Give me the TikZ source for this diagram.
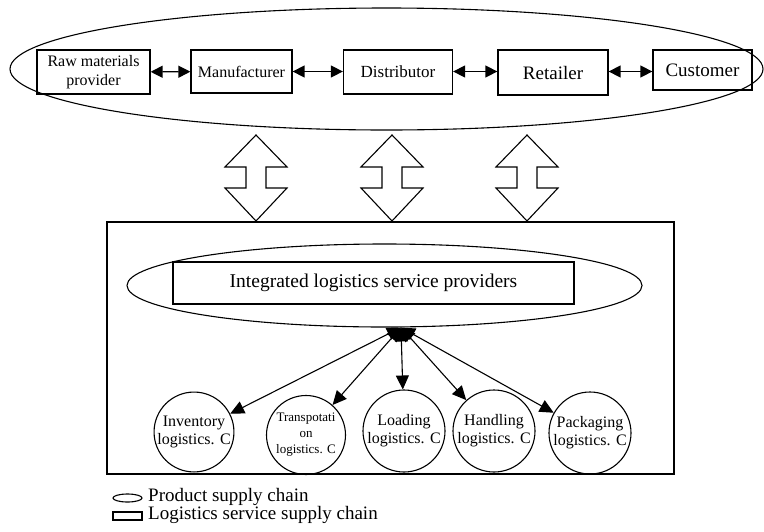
\documentclass[tikz,border=0pt]{standalone}
\usepackage{fontspec}
\setmainfont{Liberation Serif}
\usetikzlibrary{arrows.meta}

\newcommand{\fsz}[2]{\fontsize{#1}{#2}\selectfont}

\begin{document}
\begin{tikzpicture}[x=1pt,y=-1pt,
  box/.style={draw,line width=1.3pt,inner sep=0pt,align=center},
  circ/.style={draw,circle,line width=1.1pt,inner sep=0pt,align=center,font=\fsz{16}{18}},
  link/.style={{Triangle[length=12pt,width=12pt]}-{Triangle[length=12pt,width=12pt]},line width=1.4pt},
  spoke/.style={{Triangle[length=14pt,width=13pt]}-{Triangle[length=14pt,width=13pt]},line width=1.1pt}]
\useasboundingbox (0,0) rectangle (764,531);
\draw [line width=1.1pt] (386.5,69) ellipse [x radius=376.5, y radius=61];
\node[box,minimum width=113,minimum height=44,font=\fsz{16}{19}] (raw) at (93.5,72) {Raw materials\\provider};
\node[box,minimum width=101,minimum height=43,font=\fsz{16}{19}] (man) at (241.5,71.5) {Manufacturer};
\node[box,minimum width=109,minimum height=44,font=\fsz{17}{19}] (dist) at (398,72) {Distributor};
\node[box,minimum width=110,minimum height=45,font=\fsz{19}{21}] (ret) at (553,72.5) {Retailer};
\node[box,minimum width=99,minimum height=40,font=\fsz{19}{21}] (cust) at (702.5,70) {Customer};
\draw [link] (raw) -- (man);
\draw [link] (man.east) -- (dist.west |- man.east);
\draw [link] (dist.east |- man.east) -- (ret.west |- man.east);
\draw [link] (ret.east |- man.east) -- (cust.west |- man.east);
\foreach \x in {256,392,527}
  \draw [line width=1.1pt,line join=miter] (\x,135) -- (\x+31,167) -- (\x+10,167) -- (\x+10,188) -- (\x+31,188)
    -- (\x,221) -- (\x-31,188) -- (\x-10,188) -- (\x-10,167) -- (\x-31,167) -- cycle;
\draw [line width=1.3pt] (107,222) rectangle (674,474);
\draw [line width=1.1pt] (384.5,285.5) ellipse [x radius=257.5, y radius=41.5];
\node[box,minimum width=401,minimum height=42,font=\fsz{19.5}{21}] (ilsp) at (373.5,283) {Integrated logistics service providers};
\coordinate (hub) at (401,327.5);
\node[circ,minimum size=78] (inv) at (194,432) {Inventory\\logistics. C};
\node[circ,minimum size=79,font=\fsz{13}{16}] (trans) at (306,435) {Transpotati\\on\\logistics. C};
\node[circ,minimum size=82] (load) at (404,431) {Loading\\logistics. C};
\node[circ,minimum size=82] (handl) at (494,431) {Handling\\logistics. C};
\node[circ,minimum size=82] (pack) at (590,433) {Packaging\\logistics. C};
\foreach \n in {inv,trans,load,handl,pack}
  \draw [spoke] (hub) -- (\n);
\draw [line width=1.1pt] (127.5,498) ellipse [x radius=14.5, y radius=4];
\node[anchor=west,inner sep=0pt,font=\fsz{19}{19}] (pscl) at (148,497) {Product supply chain};
\draw [line width=1.1pt] (113,512) rectangle (142,520);
\node[anchor=west,inner sep=0pt,font=\fsz{19}{19}] (lscl) at (148,515) {Logistics service supply chain};
\end{tikzpicture}
\end{document}
